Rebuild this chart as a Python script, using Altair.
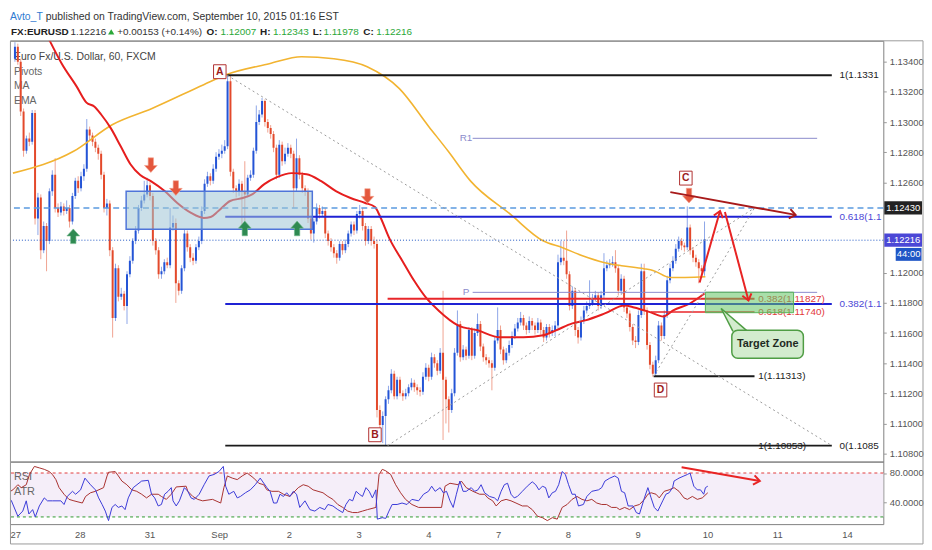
import math

import altair as alt
import pandas as pd

# ------------------------------------------------------------------ data
# EUR/USD (FXCM) 60 min candles, one per trading hour.
# hour 0 = Thu 27 Aug 00:00, weekends are not on the axis.
# Candle prices are pips above 1.1000; each open is the previous close.
BASE = 1.1
first_open = 342
close_pips = [
    # Aug 27
    350, 340, 307, 281, 289, 287, 306, 236, 250, 215, 231, 221,
    254, 265, 243, 240, 244, 241, 243, 234, 251, 261, 256, 264,
    # Aug 28
    269, 295, 291, 287, 283, 279, 265, 243, 246, 215, 170, 203,
    184, 186, 178, 199, 208, 221, 228, 243, 248, 252, 258, 251,
    # Aug 31
    221, 215, 199, 201, 207, 205, 230, 233, 193, 188, 203, 226,
    217, 210, 208, 217, 221, 241, 259, 264, 261, 269, 277, 279,
    # Sep 1
    281, 284, 327, 267, 256, 254, 259, 254, 252, 263, 265, 281,
    300, 305, 314, 300, 296, 292, 283, 265, 285, 274, 279, 283,
    # Sep 2
    279, 256, 276, 265, 256, 254, 236, 226, 234, 243, 239, 241,
    226, 221, 217, 213, 210, 219, 215, 219, 226, 232, 228, 239,
    # Sep 3
    241, 231, 221, 229, 221, 219, 109, 99, 105, 116, 122, 133,
    118, 129, 120, 118, 120, 124, 127, 124, 122, 121, 131, 137,
    # Sep 4
    131, 144, 140, 135, 147, 129, 116, 109, 120, 147, 166, 144,
    149, 145, 162, 145, 160, 166, 151, 144, 142, 140, 137, 155,
    # Sep 7
    162, 149, 142, 147, 152, 158, 163, 167, 170, 165, 162, 168,
    165, 162, 167, 162, 157, 164, 160, 162, 165, 207, 210, 208,
    # Sep 8
    199, 178, 188, 162, 157, 168, 175, 178, 180, 183, 185, 178,
    185, 203, 205, 206, 207, 203, 188, 196, 177, 173, 164, 155,
    # Sep 9
    154, 172, 201, 175, 152, 139, 133, 142, 165, 158, 172, 195,
    203, 208, 216, 221, 218, 217, 230, 215, 210, 207, 203, 201,
    # Sep 10
    222,
]
high_pips = [
    353, 352, 342, 309, 291, 293, 308, 308, 253, 252, 234, 233,
    256, 268, 276, 246, 247, 246, 248, 245, 253, 263, 264, 267,
    272, 302, 297, 293, 289, 285, 281, 267, 249, 248, 217, 206,
    205, 190, 188, 201, 211, 223, 231, 245, 251, 261, 263, 260,
    253, 223, 217, 204, 209, 210, 243, 238, 236, 195, 205, 229,
    228, 219, 213, 219, 224, 244, 262, 267, 266, 272, 280, 282,
    285, 288, 331, 331, 269, 258, 262, 261, 274, 265, 268, 283,
    311, 308, 316, 315, 302, 298, 294, 285, 288, 287, 283, 286,
    285, 281, 289, 278, 267, 258, 256, 238, 236, 246, 245, 244,
    243, 228, 223, 219, 215, 221, 221, 222, 228, 234, 234, 241,
    245, 243, 233, 231, 231, 224, 222, 112, 108, 118, 125, 136,
    135, 131, 131, 122, 123, 126, 130, 129, 126, 124, 134, 140,
    139, 147, 146, 142, 150, 188, 131, 118, 123, 150, 175, 168,
    152, 151, 164, 164, 163, 173, 168, 153, 146, 144, 142, 158,
    177, 165, 151, 150, 155, 161, 166, 170, 174, 172, 167, 171,
    170, 167, 170, 169, 164, 166, 166, 165, 168, 212, 221, 221,
    228, 201, 191, 190, 164, 171, 178, 181, 195, 186, 188, 187,
    188, 213, 208, 209, 211, 215, 205, 199, 198, 179, 175, 166,
    158, 175, 206, 206, 177, 154, 141, 145, 168, 167, 175, 198,
    206, 211, 219, 224, 223, 220, 244, 232, 217, 212, 209, 205,
    234,
]
low_pips = [
    340, 338, 304, 277, 279, 284, 285, 232, 225, 209, 213, 201,
    219, 251, 240, 237, 238, 238, 239, 230, 232, 249, 253, 254,
    261, 267, 288, 284, 280, 275, 262, 240, 238, 211, 157, 168,
    181, 182, 175, 166, 197, 206, 219, 226, 241, 246, 250, 248,
    218, 212, 196, 196, 199, 203, 203, 228, 180, 185, 186, 201,
    214, 207, 205, 206, 215, 219, 239, 257, 258, 259, 267, 275,
    276, 279, 282, 264, 253, 250, 251, 232, 232, 250, 261, 263,
    279, 298, 303, 297, 293, 289, 280, 262, 263, 271, 272, 277,
    276, 243, 254, 262, 253, 251, 233, 222, 220, 232, 236, 237,
    223, 218, 214, 210, 206, 208, 212, 213, 217, 224, 225, 226,
    236, 228, 218, 219, 218, 216, 104, 95, 87, 85, 113, 120,
    116, 116, 118, 115, 116, 118, 122, 121, 119, 118, 119, 129,
    128, 129, 137, 132, 133, 89, 100, 94, 107, 118, 145, 141,
    142, 142, 143, 142, 143, 158, 148, 141, 139, 137, 122, 135,
    153, 146, 139, 140, 145, 150, 156, 161, 165, 162, 159, 160,
    162, 159, 160, 159, 154, 155, 157, 158, 158, 163, 205, 205,
    196, 175, 176, 158, 153, 155, 166, 173, 176, 178, 181, 175,
    176, 183, 201, 203, 204, 200, 185, 186, 174, 170, 161, 152,
    150, 152, 170, 172, 149, 136, 131, 131, 140, 155, 156, 170,
    193, 201, 206, 214, 215, 214, 215, 212, 207, 204, 193, 198,
    198,
]

day_labels = ["27", "28", "31", "Sep", "2", "3", "4", "7", "8", "9", "10", "11", "14"]
# 1.122 and 1.124 sit under the price tags, so they are not printed
price_ticks = [1.108, 1.110, 1.112, 1.114, 1.116, 1.118, 1.120,
               1.126, 1.128, 1.130, 1.132, 1.134]
osc_ticks = [40, 80]

# moving averages: (hour, price)
ema_points = [
    (8.0, 1.13700), (12.3, 1.13532), (16.3, 1.13387), (21.5, 1.13235), (24.9, 1.13129),
    (27.6, 1.13103), (30.0, 1.13050), (33.4, 1.12958), (36.8, 1.12839), (40.2, 1.12720),
    (43.6, 1.12648), (47.3, 1.12608), (52.1, 1.12542), (56.5, 1.12463), (61.3, 1.12397),
    (65.7, 1.12364), (68.1, 1.12370), (70.8, 1.12410), (74.9, 1.12476), (79.3, 1.12496),
    (82.7, 1.12522), (86.8, 1.12588), (91.2, 1.12634), (96.3, 1.12661), (101.5, 1.12654),
    (106.6, 1.12608), (111.7, 1.12542), (116.8, 1.12496), (121.9, 1.12463), (125.3, 1.12436),
    (127.0, 1.12377), (130.4, 1.12225), (134.8, 1.12080), (138.9, 1.11948), (143.0, 1.11836),
    (147.4, 1.11750), (154.2, 1.11651), (161.0, 1.11618), (168.9, 1.11572), (177.0, 1.11572),
    (183.8, 1.11585), (188.3, 1.11618), (194.0, 1.11664), (198.5, 1.11684), (205.3, 1.11730),
    (212.1, 1.11783), (215.5, 1.11770), (221.3, 1.11737), (225.7, 1.11710), (229.1, 1.11750),
    (234.9, 1.11796), (240.0, 1.11862),
]
sma_points = [
    (-0.7, 1.12661), (20.4, 1.12806), (34.0, 1.12984), (47.7, 1.13090), (65.7, 1.13248),
    (73.5, 1.13314), (88.5, 1.13387), (99.7, 1.13433), (111.0, 1.13420), (122.6, 1.13367),
    (133.8, 1.13222), (144.0, 1.12971), (150.8, 1.12806), (158.6, 1.12608), (172.3, 1.12390),
    (183.8, 1.12212), (190.6, 1.12166), (197.5, 1.12113), (205.3, 1.12067), (211.1, 1.12047),
    (218.9, 1.12027), (222.3, 1.12014), (228.1, 1.11968), (240.3, 1.11974),
]

# lower pane oscillators: (hour, value)
rsi_points = [
    (-0.7, 48), (0.5, 42), (2.7, 21), (4.4, 28), (5.6, 42), (6.5, 24), (7.8, 30), (8.7, 20),
    (10.1, 35), (11.8, 46), (12.9, 42), (14.6, 42), (17.5, 42), (18.6, 37), (19.7, 48),
    (21.5, 55), (22.6, 51), (24.3, 57), (25.8, 73), (27.7, 64), (29.4, 57), (30.5, 46),
    (31.7, 37), (32.8, 28), (33.9, 15), (35.1, 33), (36.2, 37), (37.3, 33), (38.5, 35),
    (39.6, 30), (40.7, 46), (42.4, 60), (45.3, 69), (47.6, 70), (48.7, 51), (49.8, 46),
    (51.0, 35), (52.1, 37), (53.2, 51), (54.4, 55), (55.5, 60), (56.1, 42), (57.2, 35),
    (58.3, 42), (60.0, 60), (61.2, 55), (62.3, 46), (63.4, 44), (65.1, 51), (66.8, 64),
    (68.5, 76), (70.2, 78), (71.9, 82), (73.4, 89), (74.2, 62), (75.3, 51), (77.0, 55),
    (78.2, 46), (79.3, 48), (81.0, 53), (82.7, 57), (84.4, 64), (86.1, 73), (88.4, 60),
    (89.5, 55), (90.7, 39), (91.8, 39), (92.9, 51), (94.1, 48), (95.2, 53), (96.3, 48),
    (97.5, 55), (98.6, 51), (99.7, 33), (101.5, 42), (103.2, 30), (104.9, 28), (106.6, 33),
    (108.3, 30), (109.4, 37), (111.1, 35), (112.8, 30), (114.5, 26), (115.6, 37), (116.8, 44),
    (117.9, 42), (119.1, 55), (120.2, 51), (121.3, 48), (122.5, 60), (123.6, 55), (124.7, 46),
    (125.9, 57), (126.4, 17), (128.1, 19), (129.3, 18), (130.4, 28), (131.5, 37), (133.2, 37),
    (134.9, 39), (136.6, 37), (138.3, 44), (140.6, 42), (142.3, 51), (144.0, 55), (145.1, 62),
    (146.3, 55), (148.0, 60), (149.1, 53), (150.2, 55), (151.4, 42), (152.5, 33), (153.6, 51),
    (154.8, 69), (155.9, 55), (157.0, 55), (158.7, 60), (159.9, 55), (161.0, 57), (162.1, 64),
    (163.3, 53), (165.0, 48), (166.7, 46), (167.8, 42), (169.0, 55), (170.1, 64), (171.2, 66),
    (172.4, 51), (173.5, 46), (174.6, 48), (176.3, 55), (178.0, 62), (179.7, 68), (180.9, 64),
    (182.0, 57), (183.2, 62), (184.3, 60), (185.4, 46), (186.6, 53), (187.7, 55), (188.8, 64),
    (190.0, 82), (191.1, 78), (192.2, 64), (193.4, 51), (194.5, 51), (195.6, 35), (197.3, 37),
    (198.5, 48), (200.2, 55), (202.5, 57), (203.6, 60), (204.7, 69), (206.4, 73), (208.1, 76),
    (209.3, 73), (210.4, 55), (211.5, 53), (212.7, 35), (214.4, 35), (215.5, 26), (216.6, 24),
    (218.3, 46), (219.5, 60), (220.6, 46), (221.7, 33), (222.9, 28), (224.6, 42), (225.7, 51),
    (226.8, 53), (228.0, 60), (228.5, 69), (230.2, 73), (231.9, 76), (233.1, 78), (234.0, 80),
    (235.3, 62), (236.5, 57), (237.6, 57), (238.7, 51), (239.3, 60), (240.1, 62),
]
atr_points = [
    (-0.7, 53), (1.0, 57), (2.7, 64), (3.9, 60), (5.6, 64), (6.7, 78), (8.4, 89), (10.1, 87),
    (11.8, 85), (13.5, 82), (14.6, 78), (15.8, 71), (16.9, 60), (18.6, 51), (20.3, 44),
    (22.0, 42), (24.9, 39), (26.0, 48), (27.7, 53), (29.4, 55), (32.2, 60), (33.4, 76),
    (33.9, 81), (36.2, 82), (37.3, 76), (38.5, 69), (40.2, 64), (41.9, 57), (43.6, 55),
    (45.3, 51), (47.0, 46), (48.7, 51), (51.0, 51), (52.1, 48), (53.8, 44), (55.5, 51),
    (57.2, 61), (60.6, 62), (61.2, 55), (62.9, 48), (64.6, 44), (66.3, 42), (69.7, 44),
    (72.5, 39), (73.6, 60), (74.8, 76), (76.5, 73), (78.2, 71), (79.9, 76), (81.6, 80),
    (83.9, 73), (85.6, 66), (87.3, 64), (88.4, 57), (90.1, 55), (92.4, 55), (94.1, 51),
    (96.3, 48), (97.5, 53), (99.2, 60), (100.9, 64), (102.6, 62), (104.3, 57), (106.0, 55),
    (107.7, 53), (109.4, 48), (111.1, 44), (112.8, 37), (114.5, 33), (116.2, 28), (117.9, 26),
    (119.6, 26), (121.3, 28), (123.0, 30), (125.9, 33), (127.0, 78), (128.1, 85), (129.3, 83),
    (131.0, 78), (132.7, 64), (134.4, 53), (136.1, 44), (138.3, 37), (140.6, 33), (148.5, 33),
    (149.7, 62), (151.4, 66), (154.2, 64), (155.3, 69), (157.0, 60), (159.3, 55), (161.6, 51),
    (163.3, 51), (164.4, 46), (166.1, 42), (167.3, 35), (169.0, 42), (170.7, 44), (172.4, 42),
    (174.1, 39), (176.3, 35), (178.0, 35), (179.7, 30), (181.5, 21), (183.2, 19), (184.9, 15),
    (186.6, 19), (188.3, 17), (190.0, 33), (191.7, 37), (193.4, 44), (195.1, 48), (196.8, 44),
    (198.5, 42), (200.2, 44), (201.9, 39), (203.6, 37), (205.3, 37), (207.0, 33), (208.7, 33),
    (209.8, 30), (211.5, 33), (213.2, 30), (214.9, 35), (216.6, 37), (218.3, 44), (219.5, 51),
    (220.6, 53), (222.3, 51), (223.4, 46), (225.1, 55), (226.8, 57), (228.5, 60), (230.2, 55),
    (231.9, 46), (233.1, 44), (234.8, 48), (236.5, 44), (238.2, 46), (240.1, 53),
]

last_price = 1.12216
resistance = 1.12430

# drawing tools: (price, first hour, last hour)
fib_black = [(1.13310, 73.9, 284.3), (1.10853, 73.2, 284.3), (1.11313, 222.3, 257.4)]
fib_blue = [(1.12371, 73.2, 284.3), (1.11792, 73.2, 284.3)]
fib_red = [(1.11827, 129.7, 257.4)]
fib_red_thin = [(1.11740, 221.3, 257.4)]
pivot_lines = [(1.12892, 159.3, 279.2), (1.11870, 159.3, 279.2)]
pivot_labels = [("R1", 1.12892), ("P", 1.11870)]
pivot_label_hour = 157.0

# level captions as far as they show before the price scale: (text, price, hour, tool)
fib_captions = [
    ("1(1.1331", 1.13310, 287.0, "black"),
    ("0.618(1.1", 1.12371, 287.0, "blue"),
    ("0.382(1.1", 1.11792, 287.0, "blue"),
    ("0(1.1085", 1.10853, 287.0, "black"),
    ("1(1.11313)", 1.11313, 258.7, "black"),
    ("1(1.10853)", 1.10853, 258.7, "black"),
    ("0.382(1.11827)", 1.11827, 258.7, "red"),
    ("0.618(1.11740)", 1.11740, 258.7, "red"),
]

# dotted diagonals of the fib tools: (hour, price) -> (hour, price)
fib_diagonals = [
    (73.9, 1.13310, 284.3, 1.10853),
    (129.7, 1.10853, 257.4, 1.12430),
    (222.3, 1.11313, 257.4, 1.12430),
]

# zones: (first hour, last hour, top price, bottom price)
sr_zone = (38.7, 103.5, 1.12540, 1.12289)
target_zone = (240.3, 271.0, 1.11871, 1.11735)
callout_box = (249.5, 274.4, 1.11618, 1.11433)
callout_text = ("Target Zone", 262.0, 1.11526)
callout_tip = [(245.8, 1.11763, 1.11763), (249.9, 1.11695, 1.11611), (255.0, 1.11611, 1.11611)]

sell_marks = [(47.3, 1.12714), (56.0, 1.12562), (122.7, 1.12509), (234.6, 1.12512)]
buy_marks = [(20.3, 1.12242), (80.0, 1.12294), (98.2, 1.12294)]
swing_letters = [("A", 71.3, 1.13334), ("B", 125.3, 1.10925), ("C", 233.5, 1.12628), ("D", 224.7, 1.11222)]

# projected moves: (hour, price) -> (hour, price)
dark_arrows = [(228.1, 1.12535, 271.7, 1.12384)]
red_arrows = [(238.3, 1.11935, 245.4, 1.12410), (247.1, 1.12403, 255.3, 1.11816)]
osc_arrows = [(231.1, 88, 258.0, 69)]

# ------------------------------------------------------------------ layout
W, H_HEAD, H_MAIN, H_OSC = 880, 30, 424, 63
X_DOM = [0, 300.5]
Y_DOM = [1.10747, 1.13539]
O_DOM = [10.2, 95.6]
PX_H = W / (X_DOM[1] - X_DOM[0])
PX_P = H_MAIN / (Y_DOM[1] - Y_DOM[0])
PX_O = H_OSC / (O_DOM[1] - O_DOM[0])

SANS = "Liberation Sans"
UP, DN = "#2454d6", "#e3492b"
UP_WICK, DN_WICK = "#8ea6e8", "#f0a391"

xs = alt.Scale(domain=X_DOM, nice=False, zero=False)
ys = alt.Scale(domain=Y_DOM, nice=False, zero=False)
os_ = alt.Scale(domain=O_DOM, nice=False, zero=False)

price_axis = alt.Axis(orient="right", values=price_ticks, format=".5f", tickSize=3,
                      labelPadding=3, title=None)
osc_axis = alt.Axis(orient="right", values=osc_ticks, format=".4f", tickSize=3,
                    labelPadding=3, title=None)
label_expr = "[" + ",".join("'%s'" % d for d in day_labels) + "][round(datum.value / 24)]"
time_axis = alt.Axis(values=[24 * k for k in range(len(day_labels))], labelExpr=label_expr,
                     tickSize=0, labelPadding=5, title=None)

CHEVRON = "M -1 1.3 L 0 0 L 1 1.3"
ARROW_UP = "M 0 -1.15 L 1 -0.05 L 0.42 -0.05 L 0.42 1.15 L -0.42 1.15 L -0.42 -0.05 L -1 -0.05 Z"
ARROW_DN = "M 0 1.15 L 1 0.05 L 0.42 0.05 L 0.42 -1.15 L -0.42 -1.15 L -0.42 0.05 L -1 0.05 Z"
LETTER_BOX = "M -0.9 -1 L 0.9 -1 L 0.9 1 L -0.9 1 Z"
TAG_BOX = "M -1 -0.35 L 1 -0.35 L 1 0.35 L -1 0.35 Z"
TIMER_BOX = "M -1 0.6 L 1 0.6 L 1 1.6 L -1 1.6 Z"


# every layer of a pane repeats the same axis so that the merged axis stays on
def X(field, axis=None):
    return alt.X(field, type="quantitative", scale=xs, axis=axis)


def Y(field, scale=ys):
    axis = price_axis if scale is ys else osc_axis
    return alt.Y(field, type="quantitative", scale=scale, axis=axis)


def head_angle(h0, v0, h1, v1, per_v):
    dx = (h1 - h0) * PX_H
    dy = (v1 - v0) * per_v
    return math.degrees(math.atan2(dx, dy)) % 360


def arrows(segs, color, width, scale, per_v, xaxis=None):
    line_rows, head_rows = [], []
    for k, (h0, v0, h1, v1) in enumerate(segs):
        line_rows += [{"seg": k, "hour": h0, "v": v0}, {"seg": k, "hour": h1, "v": v1}]
        head_rows.append({"hour": h1, "v": v1, "ang": head_angle(h0, v0, h1, v1, per_v)})
    line = alt.Chart(pd.DataFrame(line_rows)).mark_line(
        color=color, strokeWidth=width, clip=True
    ).encode(x=X("hour", xaxis), y=Y("v", scale), detail="seg:N")
    head = alt.Chart(pd.DataFrame(head_rows)).mark_point(
        shape=CHEVRON, filled=False, color=color, strokeWidth=width, size=90, opacity=1
    ).encode(x=X("hour", xaxis), y=Y("v", scale), angle=alt.Angle("ang:Q", scale=None))
    return [line, head]


def hlines(rows, color, width, dash=None):
    kw = dict(color=color, strokeWidth=width, clip=True)
    if dash:
        kw["strokeDash"] = dash
    df = pd.DataFrame(rows, columns=["price", "h0", "h1"])
    return alt.Chart(df).mark_rule(**kw).encode(x=X("h0"), x2="h1:Q", y=Y("price"))


def box(rect, **style):
    h0, h1, top, bottom = rect
    df = pd.DataFrame([{"h0": h0, "h1": h1, "top": top, "bottom": bottom}])
    return alt.Chart(df).mark_rect(clip=True, **style).encode(
        x=X("h0"), x2="h1:Q", y=Y("top"), y2="bottom:Q"
    )


one = pd.DataFrame({"k": [0]})


def fixed_text(txt, x, y, **style):
    base = dict(align="left", baseline="middle", font=SANS, fontSize=10, color="#333")
    base.update(style)
    return alt.Chart(one).mark_text(text=txt, **base).encode(x=alt.value(x), y=alt.value(y))


# ------------------------------------------------------------------ frames
opens = [first_open] + close_pips[:-1]
candles = pd.DataFrame({
    "hour": list(range(len(close_pips))),
    "open": [BASE + o / 10000 for o in opens],
    "close": [BASE + c / 10000 for c in close_pips],
    "high": [BASE + max(h, o, c) / 10000 for h, o, c in zip(high_pips, opens, close_pips)],
    "low": [BASE + min(l, o, c) / 10000 for l, o, c in zip(low_pips, opens, close_pips)],
    "up": [c >= o for o, c in zip(opens, close_pips)],
})

# ------------------------------------------------------------------ header
header = alt.layer(
    fixed_text("Avto_T", 0, 6, color="#2f7bd1", fontSize=10.5),
    fixed_text("published on TradingView.com, September 10, 2015 01:16 EST", 36, 6, fontSize=10.5),
    fixed_text("FX:EURUSD", 1, 21, fontWeight="bold", color="#222"),
    fixed_text("1.12216", 61, 21),
    alt.Chart(one).mark_point(shape="triangle-up", filled=True, color="#2aa838", size=40,
                              opacity=1).encode(x=alt.value(102), y=alt.value(21)),
    fixed_text("+0.00153 (+0.14%)", 108, 21),
    fixed_text("O:", 198, 21, fontWeight="bold", color="#222"),
    fixed_text("1.12007", 212, 21, color="#2aa838"),
    fixed_text("H:", 252, 21, fontWeight="bold", color="#222"),
    fixed_text("1.12343", 265, 21, color="#2aa838"),
    fixed_text("L:", 305, 21, fontWeight="bold", color="#222"),
    fixed_text("1.11978", 316, 21, color="#2aa838"),
    fixed_text("C:", 356, 21, fontWeight="bold", color="#222"),
    fixed_text("1.12216", 369, 21, color="#2aa838"),
).properties(width=W, height=H_HEAD, view=alt.ViewBackground(stroke="transparent"))

# ------------------------------------------------------------------ price pane
ema = pd.DataFrame(ema_points, columns=["hour", "price"])
sma = pd.DataFrame(sma_points, columns=["hour", "price"])

diag_rows = []
for k, (h0, p0, h1, p1) in enumerate(fib_diagonals):
    diag_rows += [{"seg": k, "hour": h0, "price": p0}, {"seg": k, "hour": h1, "price": p1}]

captions = pd.DataFrame(fib_captions, columns=["text", "price", "hour", "tool"])
caption_colors = alt.Scale(domain=["black", "blue", "red"], range=["#222222", "#4b47d6", "#e2383a"])

piv_text = pd.DataFrame(pivot_labels, columns=["text", "price"]).assign(hour=pivot_label_hour)
tip = pd.DataFrame(callout_tip, columns=["hour", "top", "bottom"])
tip_edges = pd.DataFrame([
    {"seg": 0, "hour": callout_tip[0][0], "price": callout_tip[0][1]},
    {"seg": 0, "hour": callout_tip[1][0], "price": callout_tip[1][2]},
    {"seg": 1, "hour": callout_tip[0][0], "price": callout_tip[0][1]},
    {"seg": 1, "hour": callout_tip[2][0], "price": callout_tip[2][2]},
])
sells = pd.DataFrame(sell_marks, columns=["hour", "price"])
buys = pd.DataFrame(buy_marks, columns=["hour", "price"])
letters = pd.DataFrame(swing_letters, columns=["text", "hour", "price"])

main_layers = [
    fixed_text("Euro Fx/U.S. Dollar, 60, FXCM", 4, 16, color="#444", fontSize=10.5),
    fixed_text("Pivots\nMA\nEMA", 4, 31, color="#666", fontSize=10.5, lineBreak="\n",
               lineHeight=15),
    alt.Chart(candles).mark_rule(strokeWidth=1, clip=True).encode(
        x=X("hour"), y=Y("low"), y2="high:Q",
        color=alt.condition("datum.up", alt.value(UP_WICK), alt.value(DN_WICK)),
    ),
    alt.Chart(candles).mark_bar(size=2, clip=True).encode(
        x=X("hour"), y=Y("open"), y2="close:Q",
        color=alt.condition("datum.up", alt.value(UP), alt.value(DN)),
    ),
    alt.Chart(sma).mark_line(color="#f2b431", strokeWidth=1.6, clip=True,
                             interpolate="monotone").encode(x=X("hour"), y=Y("price")),
    alt.Chart(ema).mark_line(color="#e61e1e", strokeWidth=2, clip=True,
                             interpolate="monotone").encode(x=X("hour"), y=Y("price")),
    hlines(pivot_lines, "#8b8bcc", 1),
    hlines(fib_black, "#1a1a1a", 2),
    hlines(fib_blue, "#1f22d4", 2),
    hlines(fib_red, "#e8262a", 2),
    hlines(fib_red_thin, "#e8262a", 1.5),
    alt.Chart(pd.DataFrame({"price": [resistance]})).mark_rule(
        color="#5b9be0", strokeWidth=1.5, strokeDash=[6, 4]).encode(y=Y("price")),
    alt.Chart(pd.DataFrame({"price": [last_price]})).mark_rule(
        color="#1d55c4", strokeWidth=1, strokeDash=[1, 2]).encode(y=Y("price")),
    box(sr_zone, fill="#9fc5d6", fillOpacity=0.55, stroke="#4f74d9", strokeWidth=1.5),
    alt.Chart(pd.DataFrame(diag_rows)).mark_line(
        color="#9a9a9a", strokeWidth=1, strokeDash=[2, 3], clip=True
    ).encode(x=X("hour"), y=Y("price"), detail="seg:N"),
    alt.Chart(captions).mark_text(align="left", baseline="middle", font=SANS, fontSize=10,
                                  clip=True).encode(
        x=X("hour"), y=Y("price"), text="text:N",
        color=alt.Color("tool:N", scale=caption_colors, legend=None),
    ),
    alt.Chart(piv_text).mark_text(align="center", baseline="middle", font=SANS, fontSize=10,
                                  color="#8b8bcc").encode(x=X("hour"), y=Y("price"), text="text:N"),
    box(target_zone, fill="#63c463", fillOpacity=0.55, stroke="#5ab45a", strokeWidth=1),
    alt.Chart(tip).mark_area(color="#d3ecce", opacity=1, clip=True).encode(
        x=X("hour"), y=Y("top"), y2="bottom:Q"),
    alt.Chart(tip_edges).mark_line(color="#4f9d44", strokeWidth=1.5, clip=True).encode(
        x=X("hour"), y=Y("price"), detail="seg:N"),
    box(callout_box, fill="#d3ecce", stroke="#4f9d44", strokeWidth=1.5, cornerRadius=6),
    alt.Chart(pd.DataFrame([callout_text], columns=["text", "hour", "price"])).mark_text(
        font=SANS, fontSize=11, fontWeight="bold", color="#1e2a1e", baseline="middle"
    ).encode(x=X("hour"), y=Y("price"), text="text:N"),
    alt.Chart(sells).mark_point(shape=ARROW_DN, filled=True, fill="#e4573d", stroke="#f4a48f",
                                strokeWidth=0.6, size=165, opacity=1).encode(x=X("hour"), y=Y("price")),
    alt.Chart(buys).mark_point(shape=ARROW_UP, filled=True, fill="#2f8a52", stroke="#73b88c",
                               strokeWidth=0.6, size=165, opacity=1).encode(x=X("hour"), y=Y("price")),
    alt.Chart(letters).mark_point(shape=LETTER_BOX, filled=True, fill="white", stroke="#b03030",
                                  strokeWidth=1, size=196, opacity=1).encode(x=X("hour"), y=Y("price")),
    alt.Chart(letters).mark_text(font=SANS, fontSize=10.5, fontWeight="bold", color="#9c1c1c",
                                 baseline="middle").encode(x=X("hour"), y=Y("price"), text="text:N"),
]
main_layers += arrows(dark_arrows, "#a81a1a", 2, ys, PX_P)
main_layers += arrows(red_arrows, "#e82424", 2, ys, PX_P)

tags = pd.DataFrame({"text": ["1.12430", "1.12216"], "price": [resistance, last_price],
                     "kind": ["res", "last"]})
main_layers += [
    alt.Chart(tags).mark_point(shape=TAG_BOX, filled=True, size=1444, opacity=1, strokeWidth=0).encode(
        x=alt.value(W + 20), y=Y("price"),
        color=alt.Color("kind:N", scale=alt.Scale(domain=["res", "last"],
                                                  range=["#5b9be0", "#1f56c6"]), legend=None),
    ),
    alt.Chart(tags).mark_text(font=SANS, fontSize=9.5, color="white", baseline="middle").encode(
        x=alt.value(W + 20), y=Y("price"), text="text:N"),
    alt.Chart(tags.iloc[[1]]).mark_point(shape=TIMER_BOX, filled=True, size=676, opacity=1,
                                         strokeWidth=0, color="#1f56c6").encode(
        x=alt.value(W + 25.5), y=Y("price")),
    alt.Chart(tags.iloc[[1]]).mark_text(text="44:00", font=SANS, fontSize=9.5, color="white",
                                        baseline="middle", dy=14.3).encode(
        x=alt.value(W + 25.5), y=Y("price")),
]

main = alt.layer(*main_layers).properties(width=W, height=H_MAIN)

# ------------------------------------------------------------------ oscillator pane
rsi = pd.DataFrame(rsi_points, columns=["hour", "v"])
atr = pd.DataFrame(atr_points, columns=["hour", "v"])
osc_layers = [
    alt.Chart(pd.DataFrame({"hi": [80], "lo": [20]})).mark_rect(color="#f5eef9").encode(
        x=alt.value(0), x2=alt.value(W), y=Y("hi", os_), y2="lo:Q"),
    alt.Chart(pd.DataFrame({"v": [80]})).mark_rule(color="#e23c3c", strokeDash=[3, 3]).encode(
        y=Y("v", os_)),
    alt.Chart(pd.DataFrame({"v": [20]})).mark_rule(color="#2e9a2e", strokeDash=[3, 3]).encode(
        y=Y("v", os_)),
    fixed_text("RSI", 4, 16, color="#666", fontSize=11),
    fixed_text("ATR", 4, 31, color="#666", fontSize=11),
    alt.Chart(atr).mark_line(color="#a8312f", strokeWidth=1, clip=True).encode(
        x=X("hour", time_axis), y=Y("v", os_)),
    alt.Chart(rsi).mark_line(color="#3a3ad8", strokeWidth=1, clip=True).encode(
        x=X("hour", time_axis), y=Y("v", os_)),
    # outer frame of the whole chart window (right and bottom edges)
    alt.Chart(one).mark_rect(fill="transparent", stroke="#9a9a9a", strokeWidth=1).encode(
        x=alt.value(0.5), x2=alt.value(W + 40), y=alt.value(-H_MAIN), y2=alt.value(H_OSC + 20)),
]
osc_layers += arrows(osc_arrows, "#e82424", 2, os_, PX_O, time_axis)
osc = alt.layer(*osc_layers).properties(width=W, height=H_OSC)

chart = alt.vconcat(header, main, osc, spacing=0, bounds="flush").properties(
    padding={"left": 0, "top": 0, "right": 0, "bottom": 0}
).configure_view(
    stroke="#808080", strokeWidth=1
).configure_axis(
    labelFont=SANS, labelFontSize=9.5, labelColor="#555555", tickColor="#999999",
    grid=False, domain=False,
)

chart.save("out.html", embed_options={"renderer": "svg", "actions": False})
